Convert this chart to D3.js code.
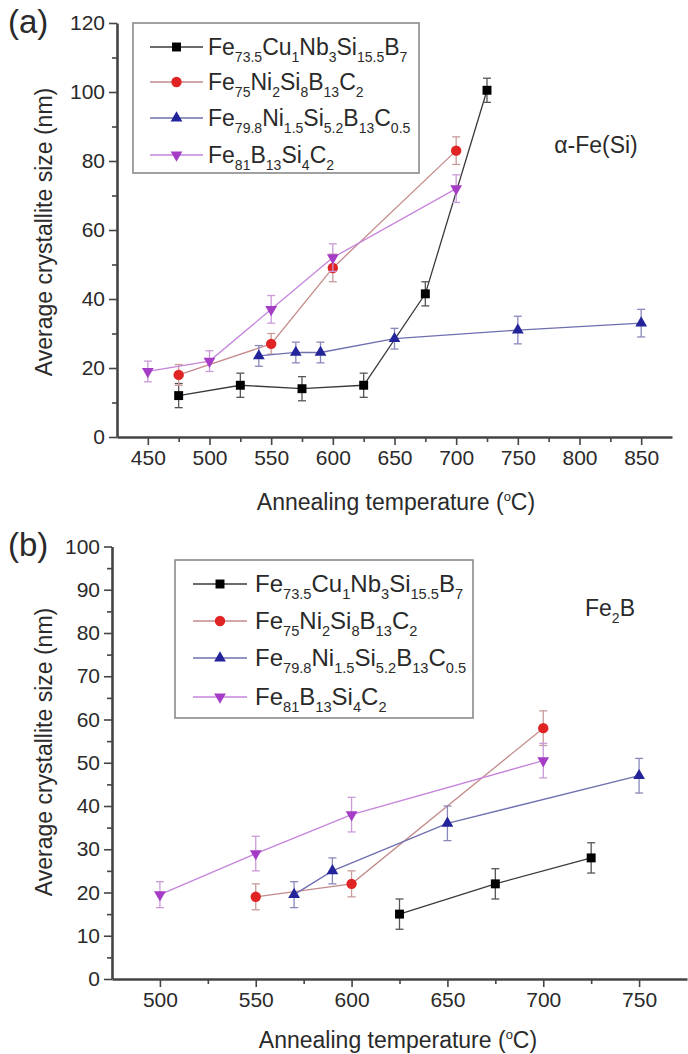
<!DOCTYPE html>
<html>
<head>
<meta charset="utf-8">
<script src="https://cdn.jsdelivr.net/npm/d3@7"></script>
<style>
  body { margin: 0; background: #fff; }
  svg text { font-family: "Liberation Sans", Arial, sans-serif; fill: #2a2a2a; }
</style>
</head>
<body>
<svg id="chart" width="688" height="1054"></svg>
<script>
// alloy names, as [element, subscript] pairs
var formulas = [
  [['Fe', '73.5'], ['Cu', '1'], ['Nb', '3'], ['Si', '15.5'], ['B', '7']],
  [['Fe', '75'], ['Ni', '2'], ['Si', '8'], ['B', '13'], ['C', '2']],
  [['Fe', '79.8'], ['Ni', '1.5'], ['Si', '5.2'], ['B', '13'], ['C', '0.5']],
  [['Fe', '81'], ['B', '13'], ['Si', '4'], ['C', '2']]
];

// panel (a) : alpha-Fe(Si)
var tempA1 = [475, 525, 575, 625, 675, 725];
var sizeA1 = [12, 15, 14, 15, 41.5, 100.5];
var errA1 = [3.5, 3.5, 3.5, 3.5, 3.5, 3.5];
var tempA2 = [475, 550, 600, 700];
var sizeA2 = [18, 27, 49, 83];
var errA2 = [3, 3, 4, 4];
var tempA3 = [540, 570, 590, 650, 750, 850];
var sizeA3 = [23.5, 24.5, 24.5, 28.5, 31, 33];
var errA3 = [3, 3, 3, 3, 4, 4];
var tempA4 = [450, 500, 550, 600, 700];
var sizeA4 = [19, 22, 37, 52, 72];
var errA4 = [3, 3, 4, 4, 4];
var xTicksA = [450, 500, 550, 600, 650, 700, 750, 800, 850];
var yTicksA = [0, 20, 40, 60, 80, 100, 120];

// panel (b) : Fe2B
var tempB1 = [625, 675, 725];
var sizeB1 = [15, 22, 28];
var errB1 = [3.5, 3.5, 3.5];
var tempB2 = [550, 600, 700];
var sizeB2 = [19, 22, 58];
var errB2 = [3, 3, 4];
var tempB3 = [570, 590, 650, 750];
var sizeB3 = [19.5, 25, 36, 47];
var errB3 = [3, 3, 4, 4];
var tempB4 = [500, 550, 600, 700];
var sizeB4 = [19.5, 29, 38, 50.5];
var errB4 = [3, 4, 4, 4];
var xTicksB = [500, 550, 600, 650, 700, 750];
var yTicksB = [0, 10, 20, 30, 40, 50, 60, 70, 80, 90, 100];

var styles = [
  { mark: '#000000', line: '#3a3a3a', err: '#555555', shape: d3.symbolSquare, size: 80, rot: 0 },
  { mark: '#e02424', line: '#c48a8a', err: '#c89a9a', shape: d3.symbolCircle, size: 85, rot: 0 },
  { mark: '#23239a', line: '#6f6fb0', err: '#8888bb', shape: d3.symbolTriangle, size: 60, rot: 0 },
  { mark: '#a43cc6', line: '#c684da', err: '#c99ad8', shape: d3.symbolTriangle, size: 60, rot: 180 }
];

function zipSeries(t, s, e) {
  return t.map(function(d, i) { return { x: d, y: s[i], e: e[i] }; });
}

var svg = d3.select('#chart');

// chemical formula with subscripts; the baseline is brought back on the next element
function formulaText(sel, parts, size, subSize) {
  var shifted = false;
  parts.forEach(function(p) {
    sel.append('tspan').attr('font-size', size).attr('dy', shifted ? -7 : 0).text(p[0]);
    shifted = false;
    if (p[1]) {
      sel.append('tspan').attr('font-size', subSize).attr('dy', 7).text(p[1]);
      shifted = true;
    }
  });
}

function drawPanel(p) {
  var g = svg.append('g');
  var x = d3.scaleLinear().domain(p.xDomain).range(p.xRange);
  var y = d3.scaleLinear().domain(p.yDomain).range(p.yRange);

  // minor ticks (between the labelled ones)
  var xStep = p.xTicks[1] - p.xTicks[0];
  var xMinor = d3.range(p.xTicks[0] - xStep / 2, p.xDomain[1], xStep).filter(function(v) { return v > p.xDomain[0]; });
  var yStep = p.yTicks[1] - p.yTicks[0];
  var yMinor = d3.range(yStep / 2, p.yDomain[1], yStep);

  var xMinorAxis = g.append('g').attr('transform', 'translate(0,' + p.yRange[0] + ')')
    .call(d3.axisBottom(x).tickValues(xMinor).tickSize(5).tickFormat(''));
  var yMinorAxis = g.append('g').attr('transform', 'translate(' + p.xRange[0] + ',0)')
    .call(d3.axisLeft(y).tickValues(yMinor).tickSize(5).tickFormat(''));

  var xAxis = g.append('g').attr('transform', 'translate(0,' + p.yRange[0] + ')')
    .call(d3.axisBottom(x).tickValues(p.xTicks).tickSize(8).tickPadding(5).tickSizeOuter(0));
  var yAxis = g.append('g').attr('transform', 'translate(' + p.xRange[0] + ',0)')
    .call(d3.axisLeft(y).tickValues(p.yTicks).tickSize(8).tickPadding(4).tickSizeOuter(0));

  [xMinorAxis, yMinorAxis].forEach(function(a) { a.select('.domain').remove(); });
  [xMinorAxis, yMinorAxis, xAxis, yAxis].forEach(function(a) {
    a.selectAll('line').attr('stroke', '#444').attr('stroke-width', 1.6);
    a.select('.domain').attr('stroke', '#444').attr('stroke-width', 2.6);
    a.selectAll('text').attr('font-size', 21).attr('font-family', '"Liberation Sans", Arial, sans-serif').attr('fill', '#2a2a2a');
  });

  // series
  p.series.forEach(function(data, i) {
    var st = styles[i];
    var sg = g.append('g');
    sg.append('path')
      .datum(data)
      .attr('fill', 'none')
      .attr('stroke', st.line)
      .attr('stroke-width', 1.3)
      .attr('d', d3.line().x(function(d) { return x(d.x); }).y(function(d) { return y(d.y); }));

    var eb = sg.selectAll('g.err').data(data).enter().append('g').attr('class', 'err')
      .attr('stroke', st.err).attr('stroke-width', 1.3);
    eb.append('line')
      .attr('x1', function(d) { return x(d.x); }).attr('x2', function(d) { return x(d.x); })
      .attr('y1', function(d) { return y(d.y + d.e); }).attr('y2', function(d) { return y(d.y - d.e); });
    eb.append('line')
      .attr('x1', function(d) { return x(d.x) - 4; }).attr('x2', function(d) { return x(d.x) + 4; })
      .attr('y1', function(d) { return y(d.y + d.e); }).attr('y2', function(d) { return y(d.y + d.e); });
    eb.append('line')
      .attr('x1', function(d) { return x(d.x) - 4; }).attr('x2', function(d) { return x(d.x) + 4; })
      .attr('y1', function(d) { return y(d.y - d.e); }).attr('y2', function(d) { return y(d.y - d.e); });

    sg.selectAll('path.mark').data(data).enter().append('path')
      .attr('class', 'mark')
      .attr('fill', st.mark)
      .attr('d', d3.symbol().type(st.shape).size(st.size))
      .attr('transform', function(d) { return 'translate(' + x(d.x) + ',' + y(d.y) + ') rotate(' + st.rot + ')'; });
  });

  // legend
  var lg = p.legend;
  g.append('rect')
    .attr('x', lg.x).attr('y', lg.y).attr('width', lg.w).attr('height', lg.h)
    .attr('fill', '#fff').attr('stroke', '#8a8a8a').attr('stroke-width', 1.6);
  formulas.forEach(function(f, i) {
    var st = styles[i];
    var ry = lg.rows[i];
    g.append('line')
      .attr('x1', lg.lineX[0]).attr('x2', lg.lineX[1]).attr('y1', ry).attr('y2', ry)
      .attr('stroke', st.line).attr('stroke-width', 1.3);
    g.append('path')
      .attr('fill', st.mark)
      .attr('d', d3.symbol().type(st.shape).size(st.size))
      .attr('transform', 'translate(' + (lg.lineX[0] + lg.lineX[1]) / 2 + ',' + ry + ') rotate(' + st.rot + ')');
    var t = g.append('text').attr('x', lg.textX).attr('y', ry + 8);
    formulaText(t, f, lg.font, lg.font * 0.61);
  });

  // phase label
  var pl = g.append('text').attr('x', p.phase.x).attr('y', p.phase.y).attr('text-anchor', 'middle');
  formulaText(pl, p.phase.parts, 23, 14);

  // axis titles
  var xt = g.append('text')
    .attr('x', p.xTitle[0]).attr('y', p.xTitle[1])
    .attr('text-anchor', 'middle').attr('font-size', 23);
  xt.append('tspan').text('Annealing temperature (');
  xt.append('tspan').attr('font-size', 13).attr('dy', -9).text('o');
  xt.append('tspan').attr('dy', 9).text('C)');

  g.append('text')
    .attr('transform', 'translate(' + p.yTitle[0] + ',' + p.yTitle[1] + ') rotate(-90)')
    .attr('text-anchor', 'middle').attr('font-size', 23)
    .text('Average crystallite size (nm)');

  g.append('text')
    .attr('x', p.tag[0]).attr('y', p.tag[1])
    .attr('font-size', 33)
    .text(p.tag[2]);
}

drawPanel({
  xDomain: [425, 875], yDomain: [0, 120],
  xRange: [117, 672], yRange: [437, 23],
  xTicks: xTicksA, yTicks: yTicksA,
  series: [
    zipSeries(tempA1, sizeA1, errA1),
    zipSeries(tempA2, sizeA2, errA2),
    zipSeries(tempA3, sizeA3, errA3),
    zipSeries(tempA4, sizeA4, errA4)
  ],
  legend: { x: 133, y: 23, w: 286, h: 150, rows: [47, 82, 118, 155], lineX: [150, 203], textX: 208, font: 23 },
  phase: { x: 596, y: 153, parts: [['\u03b1-Fe(Si)', '']] },
  xTitle: [396, 510], yTitle: [52, 232],
  tag: [8, 33, '(a)']
});

drawPanel({
  xDomain: [475, 775], yDomain: [0, 100],
  xRange: [112, 687], yRange: [979, 546.5],
  xTicks: xTicksB, yTicks: yTicksB,
  series: [
    zipSeries(tempB1, sizeB1, errB1),
    zipSeries(tempB2, sizeB2, errB2),
    zipSeries(tempB3, sizeB3, errB3),
    zipSeries(tempB4, sizeB4, errB4)
  ],
  legend: { x: 175, y: 560, w: 298, h: 158, rows: [584, 621, 658, 697], lineX: [193, 247], textX: 255, font: 24 },
  phase: { x: 610, y: 616, parts: [['Fe', '2'], ['B', '']] },
  xTitle: [398, 1048], yTitle: [52, 752],
  tag: [8, 556, '(b)']
});
</script>
</body>
</html>
